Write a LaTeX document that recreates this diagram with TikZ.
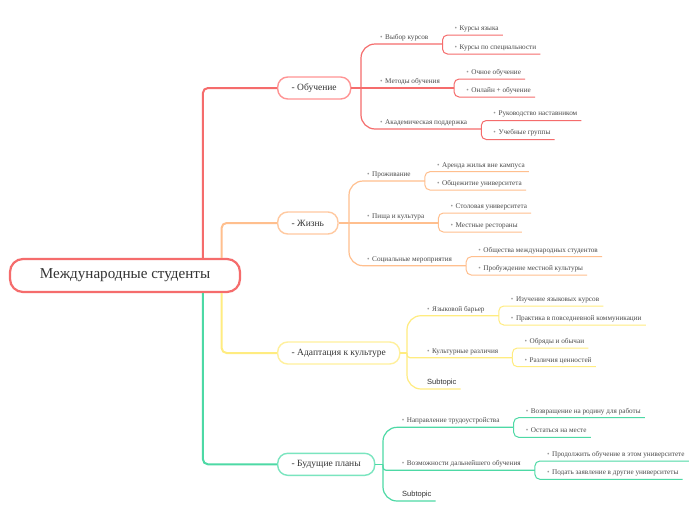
\documentclass[tikz,border=0pt]{standalone}
\usepackage{fontspec}
\setmainfont{Liberation Serif}
\setsansfont{Liberation Sans}
\usetikzlibrary{calc}
\definecolor{redM}{HTML}{F56C6C}
\definecolor{redT}{HTML}{FF9494}
\definecolor{orM}{HTML}{FFBF8E}
\definecolor{orT}{HTML}{FFC9A0}
\definecolor{yeM}{HTML}{FFEC80}
\definecolor{yeT}{HTML}{FFF09C}
\definecolor{grM}{HTML}{4DD9A5}
\definecolor{grT}{HTML}{7AE5BF}
\definecolor{txtdark}{HTML}{333333}
\definecolor{txtmid}{HTML}{4A4A4A}
\definecolor{bulgray}{HTML}{9A9A9A}
\newcommand\mybul{\textcolor{bulgray}{•}\hspace{2.5pt}}
\begin{document}
\begin{tikzpicture}[x=1pt,y=-1pt,
 rootbox/.style={draw=redM, line width=2.2pt, rounded corners=13pt, fill=white, minimum width=230pt, minimum height=33pt, inner sep=0pt, font=\fontsize{15.1}{17}\selectfont, text=txtdark},
 topicbox/.style={rounded corners=10pt, line width=1.4pt, fill=white, minimum height=22pt, inner xsep=14pt, inner ysep=0pt, anchor=west, font=\fontsize{9.5}{11}\selectfont, text=txtdark},
 childbox/.style={anchor=south west, inner xsep=14pt, inner ysep=2.5pt, text height=5pt, text depth=2pt, font=\fontsize{7.2}{8}\selectfont, text=txtmid},
 leafbox/.style={childbox, inner xsep=4pt},
 subbox/.style={childbox, font=\sffamily\fontsize{7.5}{9}\selectfont, text=txtdark, inner xsep=4pt},
 mainline/.style={line width=2pt, rounded corners=5pt},
 brline/.style={line width=1.2pt, rounded corners=14pt},
 midline/.style={line width=1.2pt, rounded corners=3pt},
 leafline/.style={line width=1pt, rounded corners=5pt}
]
\path[fill=white] (0,0) rectangle (697,520);

% root and topics
\node[rootbox] (root) at (125,275.5) {Международные студенты};
\node[topicbox, draw=redT] (ob) at (277,88) {- Обучение};
\node[topicbox, draw=orT] (zh) at (277,223) {- Жизнь};
\node[topicbox, draw=yeT] (ad) at (277,353) {- Адаптация к культуре};
\node[topicbox, draw=grT] (bu) at (277,464.3) {- Будущие планы};

\coordinate (rR) at ($(root.north west)+(194,0)$);
\coordinate (rO) at ($(root.north west)+(212.7,0)$);
\coordinate (rY) at ($(root.south west)+(212.7,0)$);
\coordinate (rG) at ($(root.south west)+(194,0)$);
\draw[mainline, redM] (rR) |- (ob.west);
\draw[mainline, orM] (rO) |- (zh.west);
\draw[mainline, yeM] (rY) |- (ad.west);
\draw[mainline, grM] (rG) |- (bu.west);

% ---------- Обучение ----------
\node[childbox] (ob1) at (366,44) {\mybul Выбор курсов};
\node[childbox] (ob2) at (366,88) {\mybul Методы обучения};
\node[childbox] (ob3) at (366,129) {\mybul Академическая поддержка};
\coordinate (obB) at (361,88);
\draw[brline, redM] (ob.east) -- (ob2.south east);
\draw[brline, redM] (obB) |- (ob1.south east);
\draw[brline, redM] (obB) |- (ob3.south east);

\node[leafbox] (ob11) at ($(ob1.south east)+(8,-9)$) {\mybul Курсы языка};
\node[leafbox] (ob12) at ($(ob1.south east)+(8,10)$) {\mybul Курсы по специальности};
\node[leafbox] (ob21) at ($(ob2.south east)+(8,-9)$) {\mybul Очное обучение};
\node[leafbox] (ob22) at ($(ob2.south east)+(8,9)$) {\mybul Онлайн + обучение};
\node[leafbox] (ob31) at ($(ob3.south east)+(8,-8.5)$) {\mybul Руководство наставником};
\node[leafbox] (ob32) at ($(ob3.south east)+(8,10.5)$) {\mybul Учебные группы};
\foreach \p/\c in {ob1/ob11,ob1/ob12,ob2/ob21,ob2/ob22,ob3/ob31,ob3/ob32}
  \draw[leafline, redM] (\p.south east) |- (\c.south east);

% ---------- Жизнь ----------
\node[childbox] (zh1) at (353,181) {\mybul Проживание};
\node[childbox] (zh2) at (353,223) {\mybul Пища и культура};
\node[childbox] (zh3) at (353,265.7) {\mybul Социальные мероприятия};
\coordinate (zhB) at (349,223);
\draw[brline, orM] (zh.east) -- (zh2.south east);
\draw[brline, orM] (zhB) |- (zh1.south east);
\draw[brline, orM] (zhB) |- (zh3.south east);

\node[leafbox] (zh11) at ($(zh1.south east)+(8,-9.3)$) {\mybul Аренда жилья вне кампуса};
\node[leafbox] (zh12) at ($(zh1.south east)+(8,9)$) {\mybul Общежитие университета};
\node[leafbox] (zh21) at ($(zh2.south east)+(8,-10)$) {\mybul Столовая университета};
\node[leafbox] (zh22) at ($(zh2.south east)+(8,9)$) {\mybul Местные рестораны};
\node[leafbox] (zh31) at ($(zh3.south east)+(8,-9)$) {\mybul Общества международных студентов};
\node[leafbox] (zh32) at ($(zh3.south east)+(8,9.3)$) {\mybul Пробуждение местной культуры};
\foreach \p/\c in {zh1/zh11,zh1/zh12,zh2/zh21,zh2/zh22,zh3/zh31,zh3/zh32}
  \draw[leafline, orM] (\p.south east) |- (\c.south east);

% ---------- Адаптация ----------
\node[childbox] (ad1) at (413,315.7) {\mybul Языковой барьер};
\node[childbox] (ad2) at (413,357.7) {\mybul Культурные различия};
\node[subbox] (ad3) at (423,389) {Subtopic};
\coordinate (adB) at (407,353);
\draw[brline, yeM] (ad.east) -- (adB);
\draw[brline, yeM] (adB) |- (ad1.south east);
\draw[midline, yeM] (adB) |- (ad2.south east);
\draw[brline, yeM] (adB) |- (ad3.south east);

\node[leafbox] (ad11) at ($(ad1.south east)+(8,-9.7)$) {\mybul Изучение языковых курсов};
\node[leafbox] (ad12) at ($(ad1.south east)+(8,9.3)$) {\mybul Практика в повседневной коммуникации};
\node[leafbox] (ad21) at ($(ad2.south east)+(8,-9.7)$) {\mybul Обряды и обычаи};
\node[leafbox] (ad22) at ($(ad2.south east)+(8,9)$) {\mybul Различия ценностей};
\foreach \p/\c in {ad1/ad11,ad1/ad12,ad2/ad21,ad2/ad22}
  \draw[leafline, yeM] (\p.south east) |- (\c.south east);

% ---------- Будущие планы ----------
\node[childbox] (bu1) at (387.7,427.3) {\mybul Направление трудоустройства};
\node[childbox] (bu2) at (387.7,470.3) {\mybul Возможности дальнейшего обучения};
\node[subbox] (bu3) at (398,501) {Subtopic};
\coordinate (buB) at (383,464.3);
\draw[brline, grM] (bu.east) -- (buB);
\draw[brline, grM] (buB) |- (bu1.south east);
\draw[midline, grM] (buB) |- (bu2.south east);
\draw[brline, grM] (buB) |- (bu3.south east);

\node[leafbox] (bu11) at ($(bu1.south east)+(8,-9.6)$) {\mybul Возвращение на родину для работы};
\node[leafbox] (bu12) at ($(bu1.south east)+(8,10)$) {\mybul Остаться на месте};
\node[leafbox] (bu21) at ($(bu2.south east)+(8,-9.3)$) {\mybul Продолжить обучение в этом университете};
\node[leafbox] (bu22) at ($(bu2.south east)+(8,9)$) {\mybul Подать заявление в другие университеты};
\foreach \p/\c in {bu1/bu11,bu1/bu12,bu2/bu21,bu2/bu22}
  \draw[leafline, grM] (\p.south east) |- (\c.south east);
\end{tikzpicture}
\end{document}
